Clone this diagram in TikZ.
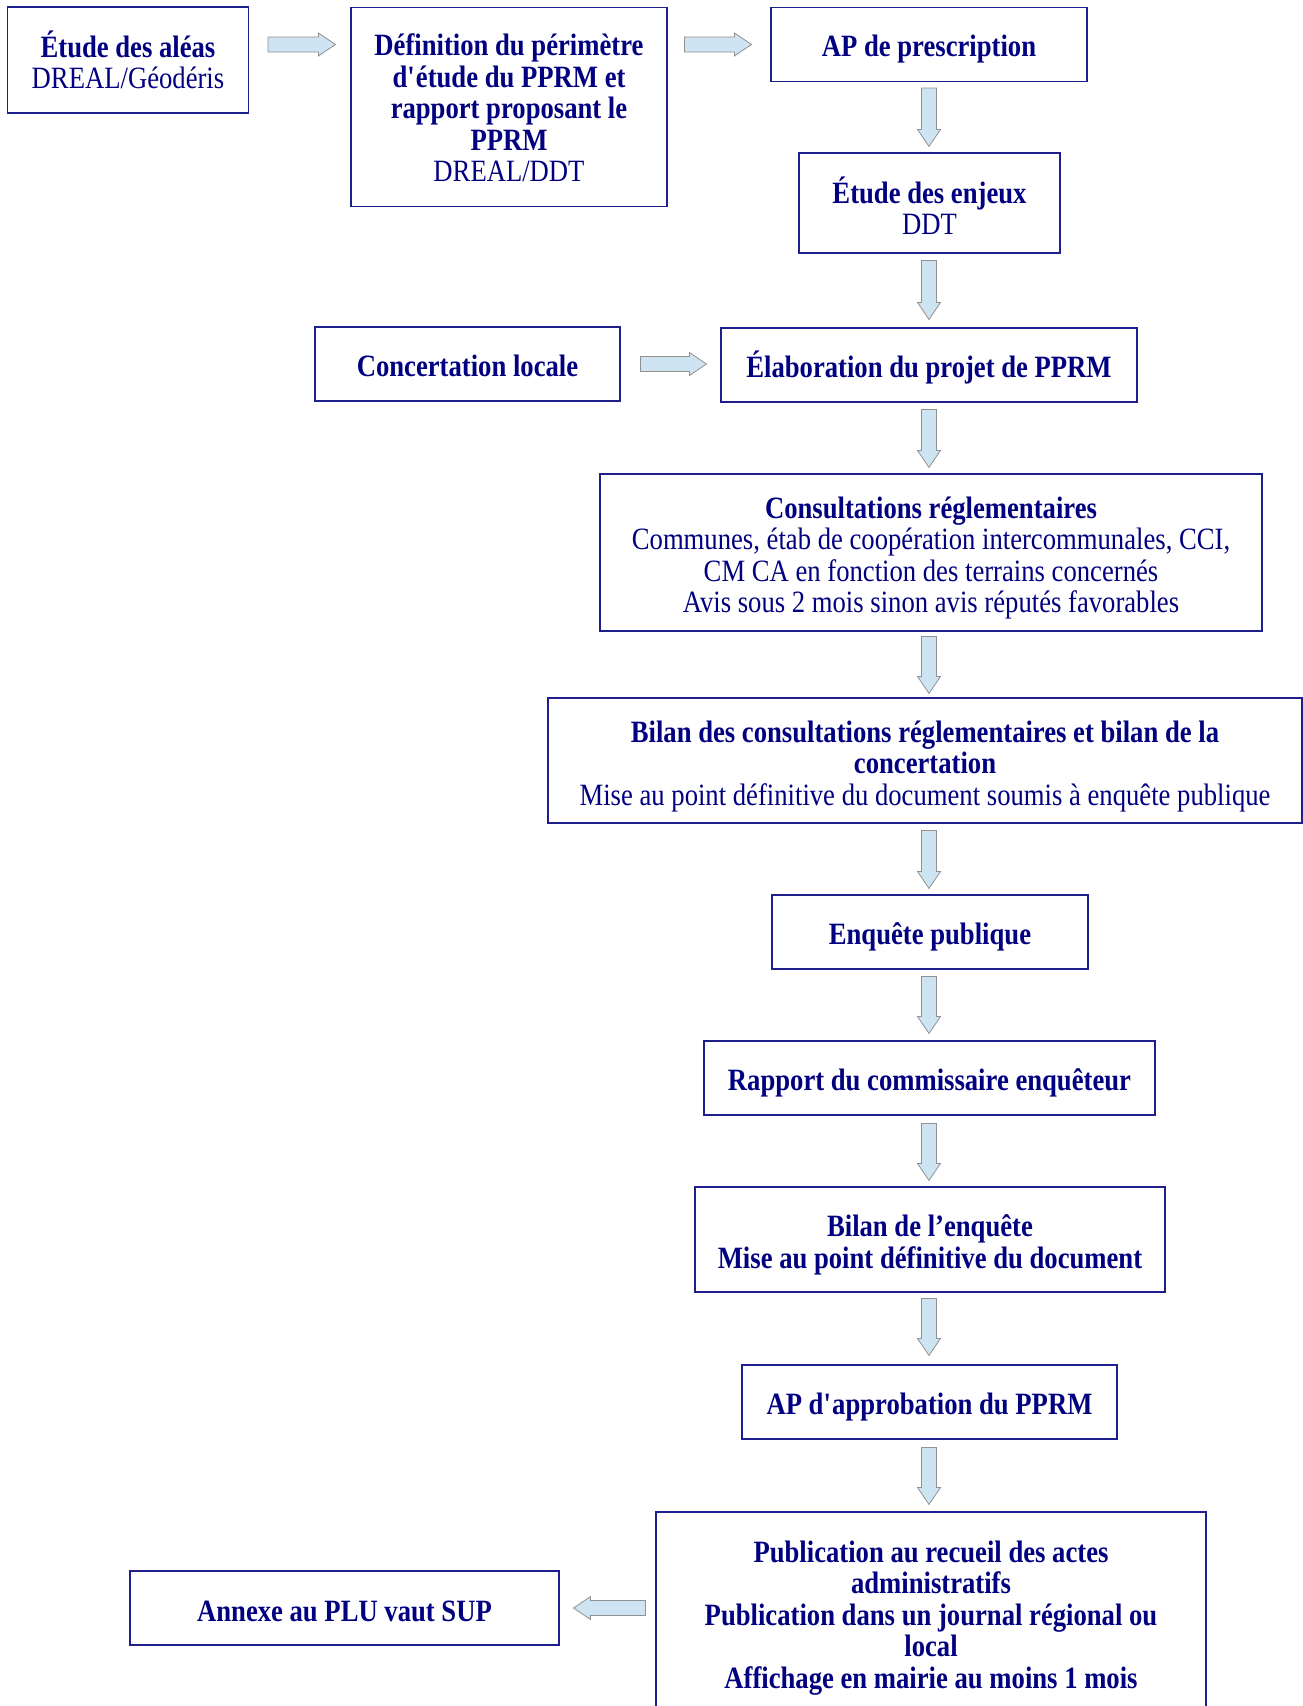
\documentclass[tikz,border=0pt]{standalone}
\usepackage{fontspec}
\setmainfont[FakeStretch=0.86]{Liberation Serif}
\usetikzlibrary{calc}
\definecolor{txt}{RGB}{0,0,128}
\definecolor{bord}{RGB}{30,30,140}
\definecolor{afill}{RGB}{207,228,242}
\definecolor{aline}{RGB}{145,145,145}
\newlength\mytshift
\newcommand\mytopstrut{\rule{0pt}{\dimexpr 29pt+2\mytshift\relax}}
\newcommand\mybotstrut{\rule[-7pt]{0pt}{7pt}}
\begin{document}
\begin{tikzpicture}[x=1pt,y=-1pt,
  tshift/.code={\setlength\mytshift{#1}},
  box/.style={draw=bord, line width=1.1pt, text=txt, align=center,
    font=\fontsize{31}{31.5}\selectfont, inner sep=0pt, tshift=1pt,
    execute at begin node={\mytopstrut}, execute at end node={\mybotstrut}},
  barrow/.style={draw=aline, fill=afill, line width=0.8pt, line join=miter, to path={
    let \p1=(\tikztostart), \p2=(\tikztotarget),
        \n1={veclen(\x2-\x1,\y2-\y1)},
        \n2={(\x2-\x1)/\n1}, \n3={(\y2-\y1)/\n1} in
    ({\x1-\n3*7.5pt},{\y1+\n2*7.5pt})
    -- ({\x2-\n2*17pt-\n3*7.5pt},{\y2-\n3*17pt+\n2*7.5pt})
    -- ({\x2-\n2*17pt-\n3*11.5pt},{\y2-\n3*17pt+\n2*11.5pt})
    -- (\p2)
    -- ({\x2-\n2*17pt+\n3*11.5pt},{\y2-\n3*17pt-\n2*11.5pt})
    -- ({\x2-\n2*17pt+\n3*7.5pt},{\y2-\n3*17pt-\n2*7.5pt})
    -- ({\x1+\n3*7.5pt},{\y1-\n2*7.5pt}) -- cycle}}]
\useasboundingbox[fill=white] (0,0) rectangle (1303,1706);

\node[box, tshift=2.1pt, minimum width=241pt, minimum height=106pt] (etude) at (128,60)
  {\mytopstrut\textbf{Étude des aléas}\\DREAL/Géodéris};
\node[box, tshift=0.7pt, minimum width=316pt, minimum height=199pt] (def) at (509,107)
  {\mytopstrut\textbf{Définition du périmètre}\\\textbf{d\textquotesingle étude du PPRM et}\\\textbf{rapport proposant le}\\\textbf{PPRM}\\DREAL/DDT};
\node[box, minimum width=316pt, minimum height=74pt] (ap) at (929,44.5)
  {\textbf{AP de prescription}};
\node[box, tshift=4.8pt, minimum width=261pt, minimum height=100pt] (enjeux) at (929.5,203)
  {\mytopstrut\textbf{Étude des enjeux}\\DDT};
\node[box, minimum width=305pt, minimum height=74pt] (concert) at (467.5,364)
  {\textbf{Concertation locale}};
\node[box, minimum width=416pt, minimum height=74pt] (elab) at (929,365)
  {\textbf{Élaboration du projet de PPRM}};
\node[box, tshift=2pt, minimum width=662pt, minimum height=157pt] (consult) at (931,552.5)
  {\mytopstrut\textbf{Consultations réglementaires}\\Communes, étab de coopération intercommunales, CCI,\\CM CA en fonction des terrains concernés\\Avis sous 2 mois sinon avis réputés favorables};
\node[box, tshift=2pt, minimum width=754pt, minimum height=125pt] (bilan) at (925,760.5)
  {\mytopstrut\textbf{Bilan des consultations réglementaires et bilan de la}\\\textbf{concertation}\\Mise au point définitive du document soumis à enquête publique};
\node[box, minimum width=316pt, minimum height=74pt] (enquete) at (930,932)
  {\textbf{Enquête publique}};
\node[box, minimum width=451pt, minimum height=74pt] (rapport) at (929.5,1078)
  {\textbf{Rapport du commissaire enquêteur}};
\node[box, tshift=2pt, minimum width=470pt, minimum height=105pt] (bilanE) at (930,1239.5)
  {\mytopstrut\textbf{Bilan de l’enquête}\\\textbf{Mise au point définitive du document}};
\node[box, minimum width=375pt, minimum height=74pt] (approb) at (929.5,1402)
  {\textbf{AP d\textquotesingle approbation du PPRM}};
\node[box, tshift=1pt, minimum width=550pt, minimum height=202pt] (pub) at (931,1613)
  {\mytopstrut\textbf{Publication au recueil des actes}\\\textbf{administratifs}\\\textbf{Publication dans un journal régional ou}\\\textbf{local}\\\textbf{Affichage en mairie au moins 1 mois}};
\node[box, tshift=2pt, minimum width=429pt, minimum height=74pt] (annexe) at (344.5,1608)
  {\textbf{Annexe au PLU vaut SUP}};

\coordinate (axis) at (929,0);

\path[barrow] ($(etude.east|-ap.center)+(19,0)$) to ($(def.west|-ap.center)+(-15,0)$);
\path[barrow] ($(def.east|-ap.center)+(17,0)$) to ($(ap.west)+(-19,0)$);
\path[barrow] ($(concert.east)+(20,0)$) to ($(elab.west|-concert.east)+(-14,0)$);
\path[barrow] ($(axis|-ap.south)+(0,6)$) to ($(axis|-enjeux.north)+(0,-6)$);
\path[barrow] ($(axis|-enjeux.south)+(0,7)$) to ($(axis|-elab.north)+(0,-8)$);
\path[barrow] ($(axis|-elab.south)+(0,7)$) to ($(axis|-consult.north)+(0,-6)$);
\path[barrow] ($(axis|-consult.south)+(0,5)$) to ($(axis|-bilan.north)+(0,-4)$);
\path[barrow] ($(axis|-bilan.south)+(0,7)$) to ($(axis|-enquete.north)+(0,-6)$);
\path[barrow] ($(axis|-enquete.south)+(0,7)$) to ($(axis|-rapport.north)+(0,-7)$);
\path[barrow] ($(axis|-rapport.south)+(0,8)$) to ($(axis|-bilanE.north)+(0,-6)$);
\path[barrow] ($(axis|-bilanE.south)+(0,6)$) to ($(axis|-approb.north)+(0,-9)$);
\path[barrow] ($(axis|-approb.south)+(0,8)$) to ($(axis|-pub.north)+(0,-7)$);
\path[barrow] ($(pub.west|-annexe.center)+(-10,0)$) to ($(annexe.east)+(14,0)$);
\end{tikzpicture}
\end{document}
